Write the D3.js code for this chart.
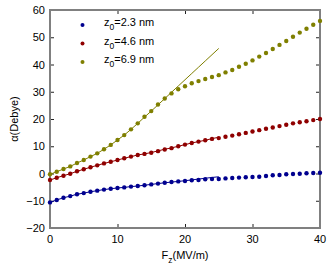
<!DOCTYPE html>
<html>
<head>
<meta charset="utf-8">
<script src="https://cdn.jsdelivr.net/npm/d3@7"></script>
<style>
  body { margin: 0; background: #fff; }
  text { font-family: "Liberation Sans", Arial, sans-serif; }
</style>
</head>
<body>
<svg width="329" height="279"></svg>
<script>
// field values (MV/m), one point per 1 MV/m
const fieldValues = d3.range(0, 41);
const fitField = d3.range(0, 26);

const seriesNames = ['2.3 nm', '4.6 nm', '6.9 nm'];

const blueDots = [-10.6, -9.7, -8.9, -8.3, -7.6, -7.2, -6.7, -6.3, -5.9, -5.6,
  -5.3, -5.1, -4.8, -4.6, -4.3, -4.0, -3.7, -3.4, -3.1, -2.9,
  -2.75, -2.5, -2.4, -2.1, -2.0, -2.0, -1.8, -1.65, -1.5, -1.4,
  -1.3, -1.2, -0.9, -0.65, -0.55, -0.3, -0.2, -0.07, 0.07, 0.2, 0.3];
const redDots = [-2.4, -1.55, -0.8, -0.07, 0.8, 1.55, 2.3, 3.0, 3.7, 4.3,
  4.95, 5.6, 6.2, 6.8, 7.2, 7.6, 8.2, 8.8, 9.3, 10.0,
  10.6, 11.2, 11.7, 12.2, 12.7, 13.0, 13.5, 13.9, 14.4, 14.9,
  15.4, 15.9, 16.4, 16.9, 17.4, 17.9, 18.4, 18.8, 19.2, 19.6, 20.0];
const oliveDots = [-0.3, 0.65, 1.65, 2.6, 3.85, 4.95, 6.2, 7.4, 8.9, 10.5,
  12.3, 14.1, 16.2, 18.4, 20.8, 22.9, 25.3, 27.5, 29.4, 30.9,
  32.0, 33.1, 33.9, 34.7, 35.4, 36.1, 37.1, 38.0, 39.2, 40.3,
  41.5, 42.9, 44.2, 45.7, 47.2, 48.6, 50.2, 51.7, 53.1, 54.6, 56.0];

// fitted curves, 0..25 MV/m
const blueFit = [-10.6, -9.7, -8.9, -8.3, -7.6, -7.2, -6.7, -6.3, -5.9, -5.6,
  -5.3, -5.1, -4.8, -4.6, -4.3, -4.0, -3.7, -3.4, -3.15, -2.9,
  -2.65, -2.35, -2.05, -1.75, -1.45, -1.2];
const redFit = [-2.4, -1.55, -0.8, -0.07, 0.8, 1.55, 2.3, 3.0, 3.7, 4.3,
  4.95, 5.6, 6.2, 6.8, 7.2, 7.7, 8.3, 8.9, 9.4, 10.0,
  10.6, 11.2, 11.7, 12.2, 12.8, 13.3];
const oliveFit = [-0.3, 0.65, 1.65, 2.6, 3.85, 4.95, 6.2, 7.4, 8.9, 10.5,
  12.3, 14.1, 16.2, 18.4, 20.7, 22.9, 25.2, 27.5, 29.8, 32.1,
  34.4, 36.7, 39.0, 41.3, 43.6, 45.9];

const xTicks = [0, 10, 20, 30, 40];
const yTicks = [-20, -10, 0, 10, 20, 30, 40, 50, 60];

const colors = ['#00008f', '#8f0000', '#7f7f00'];
const dotSets = [blueDots, redDots, oliveDots];
const fitSets = [blueFit, redFit, oliveFit];

const svg = d3.select('svg');
const margin = {top: 10, right: 9, bottom: 51, left: 50};
const width = +svg.attr('width');
const height = +svg.attr('height');
const innerWidth = width - margin.left - margin.right;
const innerHeight = height - margin.top - margin.bottom;

const xScale = d3.scaleLinear().domain([0, 40]).range([0, innerWidth]);
const yScale = d3.scaleLinear().domain([-20, 60]).range([innerHeight, 0]);
const fmt = d3.format('');

const g = svg.append('g')
    .attr('transform', `translate(${margin.left}, ${margin.top})`);

// inward tick marks on all four sides (labels drawn separately)
const tickSize = 4;
const addTicks = (axis, transform) => {
  const ag = g.append('g').attr('transform', transform).call(axis);
  ag.select('.domain').remove();
  ag.selectAll('line').attr('stroke', '#222');
  ag.selectAll('text').remove();
};
addTicks(d3.axisBottom(xScale).tickValues(xTicks).tickSize(-tickSize), `translate(0, ${innerHeight})`);
addTicks(d3.axisTop(xScale).tickValues(xTicks).tickSize(-tickSize), 'translate(0,0)');
addTicks(d3.axisLeft(yScale).tickValues(yTicks).tickSize(-tickSize), 'translate(0,0)');
addTicks(d3.axisRight(yScale).tickValues(yTicks).tickSize(-tickSize), `translate(${innerWidth}, 0)`);

// tick labels
g.append('g').selectAll('text')
  .data(xTicks)
  .join('text')
    .attr('x', d => xScale(d))
    .attr('y', innerHeight + 15)
    .attr('text-anchor', 'middle')
    .attr('font-size', 11)
    .attr('fill', '#000')
    .text(fmt);

g.append('g').selectAll('text')
  .data(yTicks)
  .join('text')
    .attr('x', -5)
    .attr('y', d => yScale(d) + 4)
    .attr('text-anchor', 'end')
    .attr('font-size', 11)
    .attr('fill', '#000')
    .text(fmt);

// grey box
g.append('rect')
    .attr('width', innerWidth)
    .attr('height', innerHeight)
    .attr('fill', 'none')
    .attr('stroke', '#808080')
    .attr('stroke-width', 2);

// fits
const line = d3.line()
    .x((d, i) => xScale(fitField[i]))
    .y(d => yScale(d));

fitSets.forEach((vals, k) => {
  g.append('path')
      .attr('d', line(vals))
      .attr('fill', 'none')
      .attr('stroke', colors[k])
      .attr('stroke-width', 1);
});

// dots
dotSets.forEach((vals, k) => {
  g.append('g').selectAll('circle')
    .data(vals)
    .join('circle')
      .attr('cx', (d, i) => xScale(fieldValues[i]))
      .attr('cy', d => yScale(d))
      .attr('r', 2.2)
      .attr('fill', colors[k]);
});

// text with a subscript, drawn as separate pieces
const subText = (parent, x, y, base, sub, rest, anchor) => {
  const grp = parent.append('g');
  const a = grp.append('text').attr('x', 0).attr('y', 0)
      .attr('font-size', 11).attr('fill', '#000').text(base);
  const w1 = a.node().getComputedTextLength();
  const b = grp.append('text').attr('x', w1).attr('y', 4)
      .attr('font-size', 8.5).attr('fill', '#000').text(sub);
  const w2 = b.node().getComputedTextLength();
  const c = grp.append('text').attr('x', w1 + w2).attr('y', 0)
      .attr('font-size', 11).attr('fill', '#000').text(rest);
  const total = w1 + w2 + c.node().getComputedTextLength();
  const x0 = anchor === 'middle' ? x - total / 2 : x;
  grp.attr('transform', `translate(${x0}, ${y})`);
};

// legend
const legend = svg.append('g');
seriesNames.forEach((name, k) => {
  const y = 25 + k * 18.5;
  legend.append('circle')
      .attr('cx', 82.5)
      .attr('cy', y)
      .attr('r', 2)
      .attr('fill', colors[k]);
  subText(legend, 104, y + 1, 'z', '0', '=' + name, 'start');
});

// axis labels
subText(svg, margin.left + innerWidth / 2, 259, 'F', 'z', '(MV/m)', 'middle');

svg.append('text')
    .attr('transform', `translate(18, ${margin.top + innerHeight / 2}) rotate(-90)`)
    .attr('text-anchor', 'middle')
    .attr('font-size', 11)
    .attr('fill', '#000')
    .text('α(Debye)');
</script>
</body>
</html>
